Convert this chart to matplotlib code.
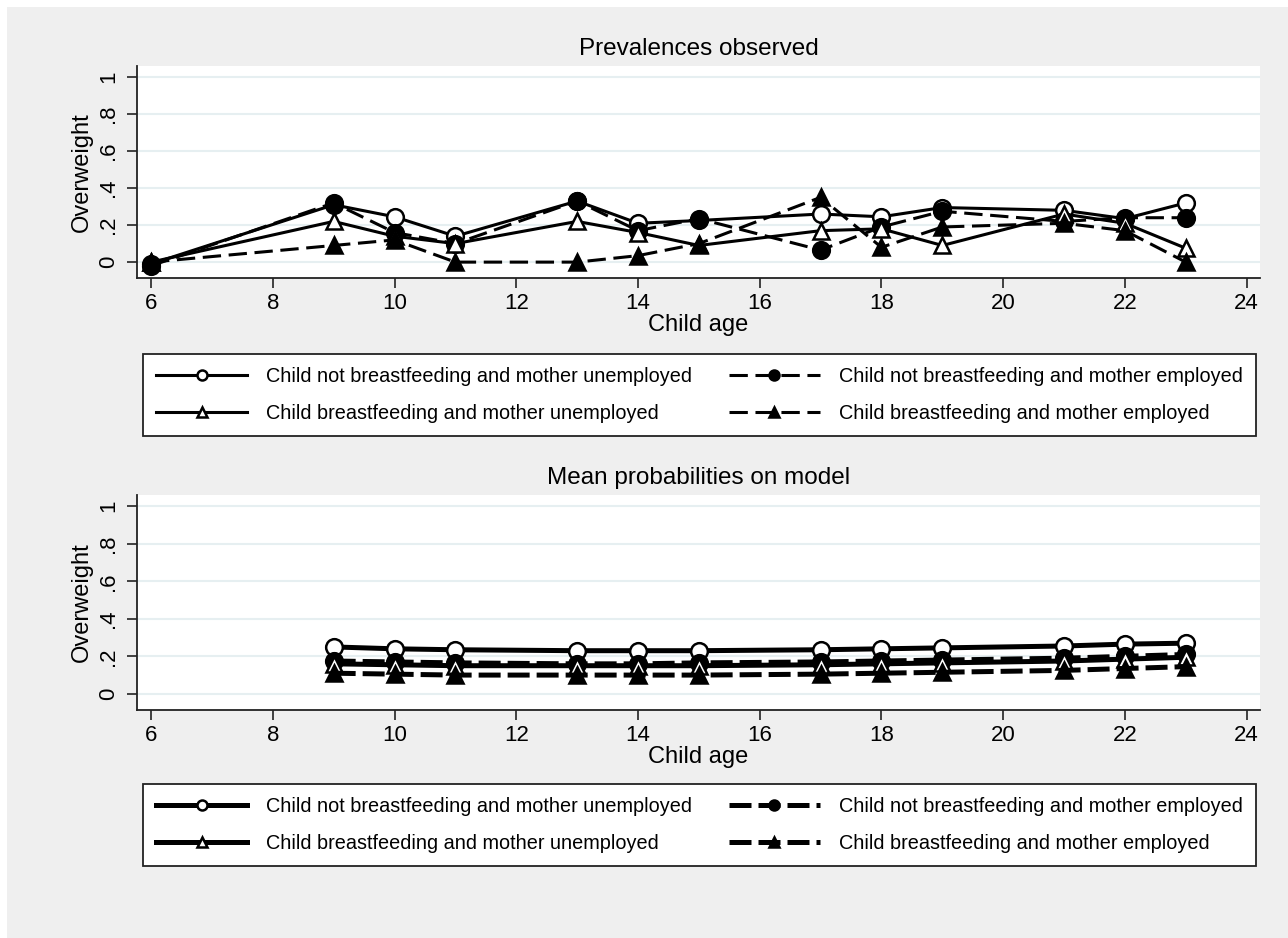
import matplotlib.pyplot as plt
from matplotlib.patches import Rectangle

plt.rcParams['font.family'] = ['Liberation Sans', 'DejaVu Sans']

ages_obs = [6, 9, 10, 11, 13, 14, 15, 17, 18, 19, 21, 22, 23]
obs_nbf_unemp = [-0.01, 0.31, 0.245, 0.14, 0.33, 0.21, 0.225, 0.26, 0.245, 0.295, 0.28, 0.235, 0.32]
obs_nbf_emp = [-0.02, 0.32, 0.16, 0.10, 0.33, 0.17, 0.235, 0.065, 0.19, 0.275, 0.22, 0.24, 0.24]
obs_bf_unemp = [0.0, 0.22, 0.14, 0.10, 0.22, 0.16, 0.09, 0.17, 0.18, 0.09, 0.26, 0.21, 0.075]
obs_bf_emp = [0.0, 0.09, 0.12, 0.0, 0.0, 0.035, 0.10, 0.35, 0.08, 0.19, 0.21, 0.17, 0.0]

ages_mod = [9, 10, 11, 13, 14, 15, 17, 18, 19, 21, 22, 23]
mod_nbf_unemp = [0.25, 0.24, 0.235, 0.23, 0.23, 0.23, 0.235, 0.24, 0.245, 0.255, 0.265, 0.27]
mod_nbf_emp = [0.175, 0.17, 0.165, 0.16, 0.16, 0.165, 0.17, 0.175, 0.18, 0.19, 0.20, 0.21]
mod_bf_unemp = [0.16, 0.155, 0.15, 0.15, 0.15, 0.15, 0.155, 0.16, 0.165, 0.175, 0.185, 0.195]
mod_bf_emp = [0.11, 0.105, 0.10, 0.10, 0.10, 0.10, 0.105, 0.11, 0.115, 0.125, 0.135, 0.145]

labels = ["Child not breastfeeding and mother unemployed",
          "Child not breastfeeding and mother employed",
          "Child breastfeeding and mother unemployed",
          "Child breastfeeding and mother employed"]
titles = ["Prevalences observed", "Mean probabilities on model"]
yticks = [0, 0.2, 0.4, 0.6, 0.8, 1]
ytick_labels = ["0", ".2", ".4", ".6", ".8", "1"]
xticks = [6, 8, 10, 12, 14, 16, 18, 20, 22, 24]

fig = plt.figure(figsize=(12.88, 9.38), dpi=100, facecolor='white')
fig.patches.append(Rectangle((7 / 1288, 0), 1, 1 - 7 / 938, transform=fig.transFigure,
                             facecolor='#efefef', edgecolor='none', zorder=-10))

ax_top = fig.add_axes([0.1064, 0.7036, 0.8719, 0.226])
ax_bot = fig.add_axes([0.1064, 0.2431, 0.8719, 0.2292])


def draw_panel(ax, x, series, lw, dash, title):
    styles = [('o', 'white', '-'), ('o', 'black', '--'), ('^', 'white', '-'), ('^', 'black', '--')]
    handles = []
    for y, (m, fc, ls) in zip(series, styles):
        h, = ax.plot(x, y, color='black', lw=lw, ls=ls, marker=m, ms=12,
                     mfc=fc, mec='black', mew=1.8, clip_on=False)
        if ls == '--':
            h.set_dashes(dash)
        handles.append(h)
    ax.set_xlim(5.77, 24.22)
    ax.set_ylim(-0.086, 1.06)
    ax.set_xticks(xticks)
    ax.set_yticks(yticks)
    ax.set_yticklabels(ytick_labels, rotation=90, va='center')
    ax.grid(axis='y', color='#e6eff1', lw=1.5)
    ax.set_axisbelow(True)
    for s in ['top', 'right']:
        ax.spines[s].set_visible(False)
    for s in ['left', 'bottom']:
        ax.spines[s].set_linewidth(1.3)
        ax.spines[s].set_color('#222222')
    ax.tick_params(length=7, width=1.2, labelsize=16, color='#222222')
    ax.tick_params(axis='y', pad=6)
    ax.tick_params(axis='x', pad=4)
    ax.set_xlabel("Child age", fontsize=17, labelpad=0)
    ax.set_ylabel("Overweight", fontsize=17, labelpad=4)
    ax.set_title(title, fontsize=17.5, pad=8)
    return handles


h_top = draw_panel(ax_top, ages_obs, [obs_nbf_unemp, obs_nbf_emp, obs_bf_unemp, obs_bf_emp],
                   2.2, (6, 2.5), titles[0])
h_bot = draw_panel(ax_bot, ages_mod, [mod_nbf_unemp, mod_nbf_emp, mod_bf_unemp, mod_bf_emp],
                   3.6, (4.4, 1.4), titles[1])

order = [0, 2, 1, 3]
for handles, box in [(h_top, (0.111, 0.534, 0.864, 0.0896)), (h_bot, (0.111, 0.0757, 0.864, 0.0896))]:
    leg = fig.legend([handles[i] for i in order], [labels[i] for i in order], ncol=2,
                     loc='center', bbox_to_anchor=box, mode='expand', fontsize=14.3,
                     handlelength=4.6, handletextpad=0.95, markerscale=0.6,
                     fancybox=False, edgecolor='#222222', framealpha=1,
                     borderaxespad=0, borderpad=0.65, labelspacing=0.9, columnspacing=1.0)
    leg.get_frame().set_linewidth(1.3)

fig.savefig("out.png", dpi=100, facecolor=fig.get_facecolor())
